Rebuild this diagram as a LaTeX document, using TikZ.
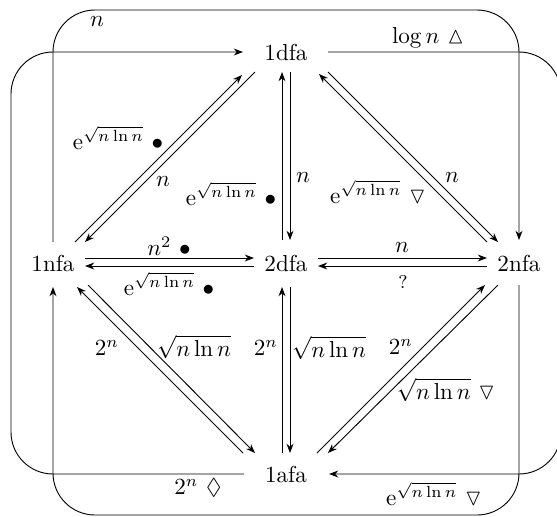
\documentclass[tikz,border=0pt]{standalone}
\usepackage{amssymb}
\usetikzlibrary{arrows.meta}
\begin{document}
\begin{tikzpicture}[x=0.4327pt,y=-0.4327pt,
  ar/.style={-{Stealth[length=4pt,width=3pt]}},
  st/.style={inner sep=0pt},
  lab/.style={inner sep=0pt},
  outer/.style={rounded corners=18.17pt}]
\useasboundingbox (0,0) rectangle (557,516);
% states
\node[st] (d1) at (286,52) {1dfa};
\node[st] (n1) at (53,263) {1nfa};
\node[st] (d2) at (286,263) {2dfa};
\node[st] (n2) at (519,263) {2nfa};
\node[st] (a1) at (286,474) {1afa};
% outer frame coordinates
\coordinate (cN) at (0,10);
\coordinate (cS) at (0,515);
\coordinate (cW) at (11,0);
\coordinate (cE) at (561,0);
% outer connectors
\draw[outer,ar] ([shift={(0,-21)}]n1.center) -- (n1 |- cN) -- (n2 |- cN) -- ([shift={(0,-23)}]n2.center);
\draw[outer,ar] ([shift={(42,0)}]d1.center) -- (cE |- d1) -- (cE |- a1) -- ([shift={(43,0)}]a1.center);
\draw[outer,ar] ([shift={(-42,0)}]a1.center) -- (cW |- a1) -- (cW |- d1) -- ([shift={(-43,0)}]d1.center);
\draw[outer,ar] ([shift={(0,22)}]n2.center) -- (n2 |- cS) -- (n1 |- cS) -- ([shift={(0,24)}]n1.center);
% 1dfa <-> 2dfa
\draw[ar] ([shift={(-4,-23)}]d2.center) -- ([shift={(-4,20)}]d1.center);
\draw[ar] ([shift={(4,20)}]d1.center) -- ([shift={(4,-23)}]d2.center);
% 2dfa <-> 1afa
\draw[ar] ([shift={(-4,-21)}]a1.center) -- ([shift={(-4,24)}]d2.center);
\draw[ar] ([shift={(4,24)}]d2.center) -- ([shift={(4,-21)}]a1.center);
% 1nfa <-> 2dfa
\draw[ar] ([shift={(32,-5)}]n1.center) -- ([shift={(-32,-5)}]d2.center);
\draw[ar] ([shift={(-32,3)}]d2.center) -- ([shift={(32,3)}]n1.center);
% 2dfa <-> 2nfa
\draw[ar] ([shift={(32,-5)}]d2.center) -- ([shift={(-32,-5)}]n2.center);
\draw[ar] ([shift={(-32,3)}]n2.center) -- ([shift={(32,3)}]d2.center);
% 1nfa <-> 1dfa
\draw[ar] ([shift={(22,-21)}]n1.center) -- ([shift={(-44,23)}]d1.center);
\draw[ar] ([shift={(-31,20)}]d1.center) -- ([shift={(32,-21)}]n1.center);
% 1dfa <-> 2nfa
\draw[ar] ([shift={(-32,-21)}]n2.center) -- ([shift={(33,22)}]d1.center);
\draw[ar] ([shift={(42,20)}]d1.center) -- ([shift={(-21,-21)}]n2.center);
% 1nfa <-> 1afa
\draw[ar] ([shift={(-43,-21)}]a1.center) -- ([shift={(24,24)}]n1.center);
\draw[ar] ([shift={(35,22)}]n1.center) -- ([shift={(-31,-21)}]a1.center);
% 2nfa <-> 1afa
\draw[ar] ([shift={(31,-21)}]a1.center) -- ([shift={(-34,22)}]n2.center);
\draw[ar] ([shift={(-21,22)}]n2.center) -- ([shift={(42,-21)}]a1.center);
% labels
\node[lab] (l1) at (97,22) {$n$};
\node[lab] (l2) at (428,38) {$\log n\ {\vartriangle}$};
\node[lab] (l3) at (198,488) {$2^n\ \Diamond$};
\node[lab] (l4) at (434,494) {$\mathrm{e}^{\sqrt{n\ln n}}\ \triangledown$};
\node[lab] (l5) at (118,138) {$\mathrm{e}^{\sqrt{n\ln n}}\ \bullet$};
\node[lab] (l6) at (163,182) {$n$};
\node[lab] (l7) at (231,194) {$\mathrm{e}^{\sqrt{n\ln n}}\ \bullet$};
\node[lab] (l8) at (303,178) {$n$};
\node[lab] (l9) at (378,192) {$\mathrm{e}^{\sqrt{n\ln n}}\ \triangledown$};
\node[lab] (l10) at (452,178) {$n$};
\node[lab] (l11) at (169,246) {$n^2\ \bullet$};
\node[lab] (l12) at (169,284) {$\mathrm{e}^{\sqrt{n\ln n}}\ \bullet$};
\node[lab] (l13) at (402,248) {$n$};
\node[lab] (l14) at (403,282) {\footnotesize ?};
\node[lab] (l15) at (107,348) {$2^n$};
\node[lab] (l16) at (194,347) {$\sqrt{n\ln n}$};
\node[lab] (l17) at (266,348) {$2^n$};
\node[lab] (l18) at (329,348) {$\sqrt{n\ln n}$};
\node[lab] (l19) at (401,347) {$2^n$};
\node[lab] (l20) at (446,390) {$\sqrt{n\ln n}\ \triangledown$};
\end{tikzpicture}
\end{document}
